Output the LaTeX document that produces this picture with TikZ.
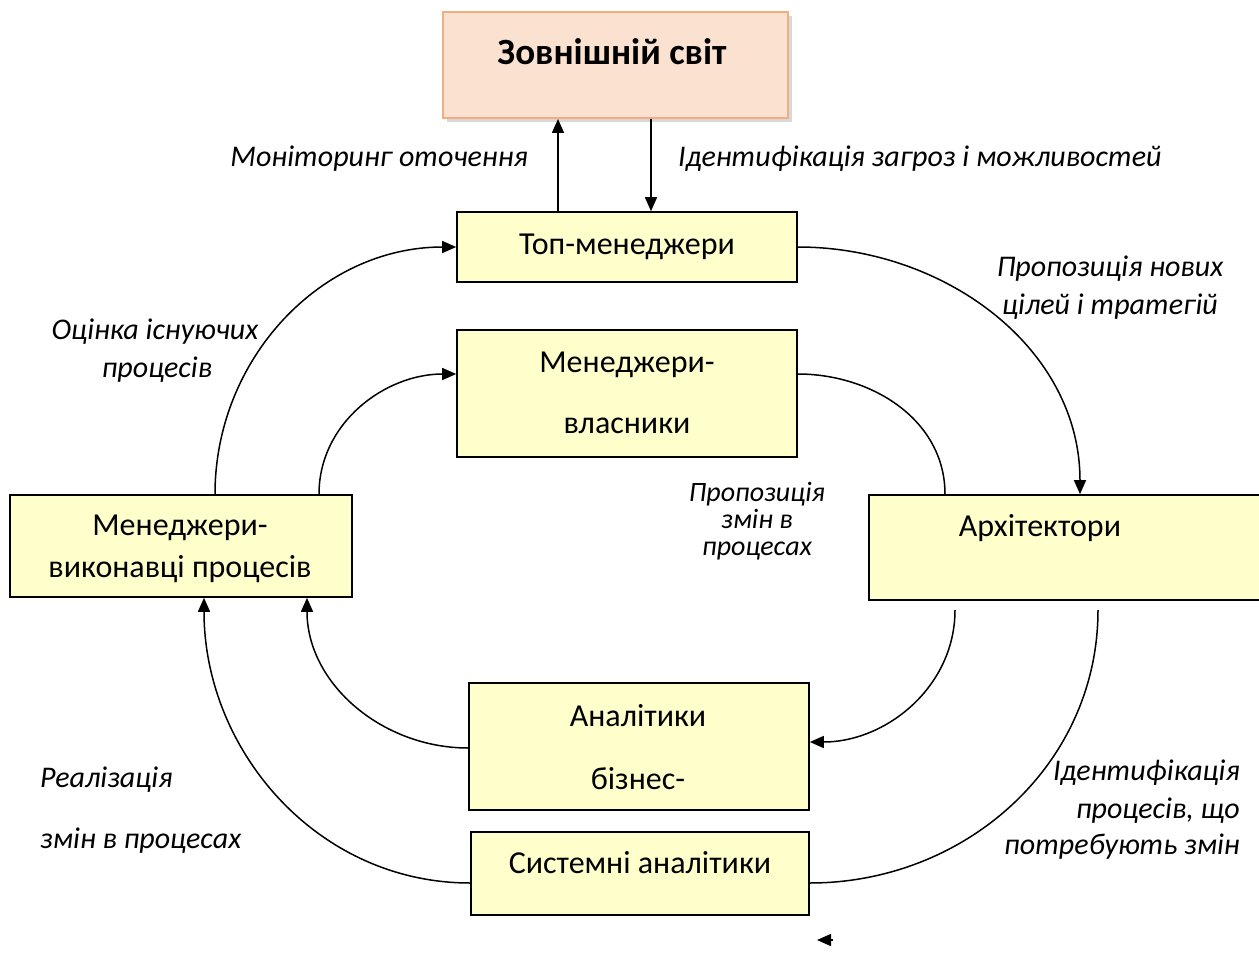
\documentclass[tikz,border=0pt]{standalone}
\usepackage{fontspec}
\setmainfont{Carlito}
\usetikzlibrary{arrows.meta,shadows}
\definecolor{boxfill}{HTML}{FFFFCC}
\definecolor{worldfill}{HTML}{FBE1D0}
\definecolor{worldline}{HTML}{F2AE80}
\tikzset{
  box/.style={draw=black,line width=1.6pt,fill=boxfill,inner sep=0pt},
  txt/.style={font=\fontsize{32}{34}\selectfont,inner sep=0pt},
  lbl/.style={font=\fontsize{30}{32}\selectfont\itshape,inner sep=0pt},
  tight/.style={lbl,font=\fontsize{28}{26}\selectfont\itshape,text height=13pt,text depth=4pt},
  link/.style={line width=1.5pt},
  arr/.style={link,-{Triangle[length=14pt,width=12pt]}}
}
\begin{document}
\begin{tikzpicture}[x=1pt,y=-1pt]
\useasboundingbox (0,0) rectangle (1259,955);
% boxes
\node[box,draw=worldline,fill=worldfill,line width=2pt,
  drop shadow={shadow xshift=4pt,shadow yshift=-4pt,fill=gray!60},
  minimum width=345pt,minimum height=106pt] (world) at (615.5,65) {};
\node[box,minimum width=340pt,minimum height=70pt] (top) at (627,247) {};
\node[box,minimum width=340pt,minimum height=127pt] (owners) at (627,393.5) {};
\node[box,minimum width=393pt,minimum height=105pt] (arch) at (1065.5,547.5) {};
\node[box,minimum width=342pt,minimum height=102pt] (exec) at (181,546) {};
\node[box,minimum width=340pt,minimum height=127pt] (ba) at (639,746.5) {};
\node[box,minimum width=338pt,minimum height=83pt] (sa) at (640,873.5) {};
% box texts
\node[txt,font=\fontsize{37}{39}\selectfont\bfseries] (worldtxt) at (612,52) {Зовнішній світ};
\node[txt] (toptxt) at (627,247) {Топ-менеджери};
\node[txt] (ownerstxta) at (627,365) {Менеджери-};
\node[txt] (ownerstxtb) at (627,426) {власники};
\node[txt] (archtxt) at (1040,528) {Архітектори};
\node[txt] (exectxta) at (180,528) {Менеджери-};
\node[txt] (exectxtb) at (180,569) {виконавці процесів};
\node[txt] (batxta) at (638,716) {Аналітики};
\node[txt] (batxtb) at (638,779) {бізнес-};
\node[txt] (satxt) at (640,863) {Системні аналітики};
% labels
\node[lbl,anchor=east] (monit) at (528,159) {Моніторинг оточення};
\node[lbl,anchor=west] (ident) at (678,159) {Ідентифікація загроз і можливостей};
\node[lbl] (propa) at (1110,269) {Пропозиція нових};
\node[lbl] (propb) at (1110,307) {цілей і тратегій};
\node[lbl] (evala) at (155,332) {Оцінка існуючих};
\node[lbl] (evalb) at (157,370) {процесів};
\node[tight] (changea) at (757,497) {Пропозиція};
\node[tight] (changeb) at (757,524) {змін в};
\node[tight] (changec) at (757,551) {процесах};
\node[lbl,anchor=west] (reala) at (40,780) {Реалізація};
\node[lbl,anchor=west] (realb) at (40,841) {змін в процесах};
\node[lbl,anchor=east] (procsa) at (1240,773) {Ідентифікація};
\node[lbl,anchor=east] (procsb) at (1240,811) {процесів, що};
\node[lbl,anchor=east] (procsc) at (1240,847) {потребують змін};
% connectors
\draw[arr] (top.north -| 558,0) -- (world.south -| 558,0);
\draw[arr] (world.south -| 651,0) -- (top.north -| 651,0);
\draw[arr] (top.east) to[out=0,in=90] (arch.north -| 1080,0);
\draw[link] (owners.east |- 0,374) to[out=0,in=90] (arch.north -| 945,0);
\coordinate (archa) at (955,610);
\coordinate (archb) at (1098,610);
\draw[arr] (archa) to[out=-90,in=0] (ba.east |- 0,742);
\draw[link] (archb) to[out=-90,in=0] (sa.east |- 0,883);
\draw[arr] (ba.west |- 0,748) to[out=180,in=-90] (exec.south -| 307,0);
\draw[arr] (sa.west |- 0,883) to[out=180,in=-90] (exec.south -| 204,0);
\draw[arr] (exec.north -| 215,0) to[out=90,in=180] (top.west);
\draw[arr] (exec.north -| 319,0) to[out=90,in=180] (owners.west |- 0,374);
% stray tip
\coordinate (tipa) at (833,940);
\coordinate (tipb) at (817,940);
\draw[arr] (tipa) -- (tipb);
\end{tikzpicture}
\end{document}
